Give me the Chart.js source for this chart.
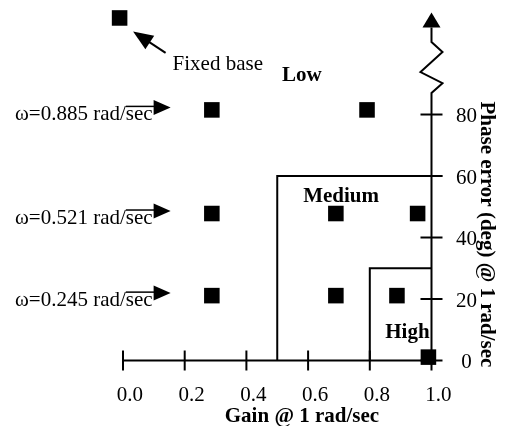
<!DOCTYPE html>
<html>
<head>
<meta charset="utf-8">
<script src="https://cdn.jsdelivr.net/npm/chart.js@4.4.1/dist/chart.umd.min.js"></script>
<style>
html,body{margin:0;padding:0;background:#fff;}
#wrap{width:506px;height:426px;}
</style>
</head>
<body>
<div id="wrap"><canvas id="c" width="506" height="426"></canvas></div>
<script>
// ---- data ----
const xTicks = [0, 0.2, 0.4, 0.6, 0.8, 1.0];
const xTickLabels = ['0.0', '0.2', '0.4', '0.6', '0.8', '1.0'];
const yTicks = [0, 20, 40, 60, 80];
const yTickLabels = ['0', '20', '40', '60', '80'];
const pointsX = [-0.011, 0.288, 0.791, 0.288, 0.69, 0.955, 0.288, 0.69, 0.888, 0.99];
const pointsY = [111.4, 81.5, 81.5, 47.8, 47.8, 47.8, 21.1, 21.1, 21.1, 1.1];
const mediumX = [0.5, 0.5, 1.035];
const mediumY = [0, 60, 60];
const highX = [0.8, 0.8, 1.0];
const highY = [0, 30, 30];
const rowLabels = ['ω=0.885 rad/sec', 'ω=0.521 rad/sec', 'ω=0.245 rad/sec'];
const rowLabelY = [81.5, 47.8, 21.1];
const xTitle = 'Gain @ 1 rad/sec';
const yTitle = 'Phase error (deg) @ 1 rad/sec';
const regionNames = ['Low', 'Medium', 'High'];
const regionX = [0.58, 0.707, 0.922];
const regionY = [92.5, 53.2, 9.0];
const fixedLabel = 'Fixed base';

const SERIF = '"Liberation Serif", "Times New Roman", serif';

function toPts(xs, ys){ return xs.map((x,i)=>({x:x,y:ys[i]})); }

const decor = {
  id: 'decor',
  beforeDatasetsDraw(chart){
    const ctx = chart.ctx, xs = chart.scales.x, ys = chart.scales.y;
    const X = v => xs.getPixelForValue(v), Y = v => ys.getPixelForValue(v);
    ctx.save();
    ctx.strokeStyle = '#000'; ctx.fillStyle = '#000'; ctx.lineWidth = 2;
    ctx.lineCap = 'butt';
    // x axis
    ctx.beginPath(); ctx.moveTo(X(0), Y(0)); ctx.lineTo(X(1), Y(0)); ctx.stroke();
    xTicks.forEach(t=>{ ctx.beginPath(); ctx.moveTo(X(t), Y(0)-10); ctx.lineTo(X(t), Y(0)+10); ctx.stroke(); });
    // y axis with break
    const ax = X(1);
    ctx.beginPath(); ctx.moveTo(ax, Y(0)); ctx.lineTo(ax, Y(87));
    ctx.lineTo(ax+11, Y(90.2)); ctx.lineTo(ax-11, Y(93.8)); ctx.lineTo(ax+11, Y(100.3));
    ctx.lineTo(ax, Y(103.6)); ctx.lineTo(ax, Y(108.3)); ctx.stroke();
    ctx.beginPath(); ctx.moveTo(ax-9, Y(108.3)); ctx.lineTo(ax+9, Y(108.3)); ctx.lineTo(ax, Y(113.2)); ctx.closePath(); ctx.fill();
    yTicks.forEach(t=>{ ctx.beginPath(); ctx.moveTo(ax-11, Y(t)); ctx.lineTo(ax+11, Y(t)); ctx.stroke(); });
    // tick labels
    ctx.font = '21px ' + SERIF;
    ctx.textAlign = 'center'; ctx.textBaseline = 'alphabetic';
    xTicks.forEach((t,i)=>{ ctx.fillText(xTickLabels[i], X(t)+7, Y(0)+40); });
    ctx.textBaseline = 'middle';
    yTicks.forEach((t,i)=>{ ctx.fillText(yTickLabels[i], ax+35, Y(t)+2); });
    // axis titles
    ctx.font = 'bold 21px ' + SERIF;
    ctx.textBaseline = 'alphabetic';
    ctx.fillText(xTitle, X(0.58), Y(0)+61);
    ctx.save();
    ctx.translate(ax+55, Y(41)); ctx.rotate(Math.PI/2);
    ctx.textBaseline = 'middle';
    ctx.fillText(yTitle, 0, 0);
    ctx.restore();
    // region names
    ctx.textBaseline = 'middle';
    regionNames.forEach((n,i)=>{ ctx.fillText(n, X(regionX[i]), Y(regionY[i])); });
    // row labels with arrows
    ctx.font = '21px ' + SERIF;
    ctx.textAlign = 'left'; ctx.textBaseline = 'alphabetic';
    rowLabels.forEach((s,i)=>{
      const py = Y(rowLabelY[i]);
      const x0 = 15;
      ctx.fillText(s, x0, py+10);
      const w = ctx.measureText(s).width;
      const wPre = ctx.measureText(s.slice(0, s.length-3)).width;
      const end = x0 + w;
      ctx.lineWidth = 1.5;
      ctx.beginPath(); ctx.moveTo(x0+wPre, py-3.5); ctx.lineTo(end+3, py-3.5); ctx.stroke();
      ctx.beginPath(); ctx.moveTo(end+1, py-10); ctx.lineTo(end+1, py+5); ctx.lineTo(end+18, py-2.5); ctx.closePath(); ctx.fill();
    });
    // fixed base label and arrow
    const fx = X(pointsX[0]), fy = Y(pointsY[0]);
    ctx.fillText(fixedLabel, fx+53, fy+52);
    const tx = fx+13.5, ty = fy+13.5, sx = fx+46, sy = fy+35;
    const ang = Math.atan2(ty-sy, tx-sx);
    ctx.lineWidth = 2;
    ctx.beginPath(); ctx.moveTo(sx, sy); ctx.lineTo(tx - 14*Math.cos(ang), ty - 14*Math.sin(ang)); ctx.stroke();
    const hl = 20, hw = 8;
    const bx = tx - hl*Math.cos(ang), by = ty - hl*Math.sin(ang);
    ctx.beginPath(); ctx.moveTo(tx, ty);
    ctx.lineTo(bx + hw*Math.sin(ang), by - hw*Math.cos(ang));
    ctx.lineTo(bx - hw*Math.sin(ang), by + hw*Math.cos(ang));
    ctx.closePath(); ctx.fill();
    ctx.restore();
  }
};

new Chart(document.getElementById('c'), {
  type: 'scatter',
  data: {
    datasets: [
      { data: toPts(mediumX, mediumY), showLine: true, borderColor: '#000', borderWidth: 2, pointRadius: 0, fill: false, tension: 0 },
      { data: toPts(highX, highY), showLine: true, borderColor: '#000', borderWidth: 2, pointRadius: 0, fill: false, tension: 0 },
      { data: toPts(pointsX, pointsY), pointStyle: 'rect', pointRadius: 11, pointHoverRadius: 11, backgroundColor: '#000', borderWidth: 0, showLine: false }
    ]
  },
  options: {
    responsive: false,
    animation: false,
    events: [],
    layout: { padding: 0, autoPadding: false },
    plugins: { legend: { display: false }, tooltip: { enabled: false }, title: { display: false } },
    scales: {
      x: { type: 'linear', display: false, min: -0.3987, max: 1.2415 },
      y: { type: 'linear', display: false, min: -21.30, max: 117.24 }
    }
  },
  plugins: [decor]
});
</script>
</body>
</html>
